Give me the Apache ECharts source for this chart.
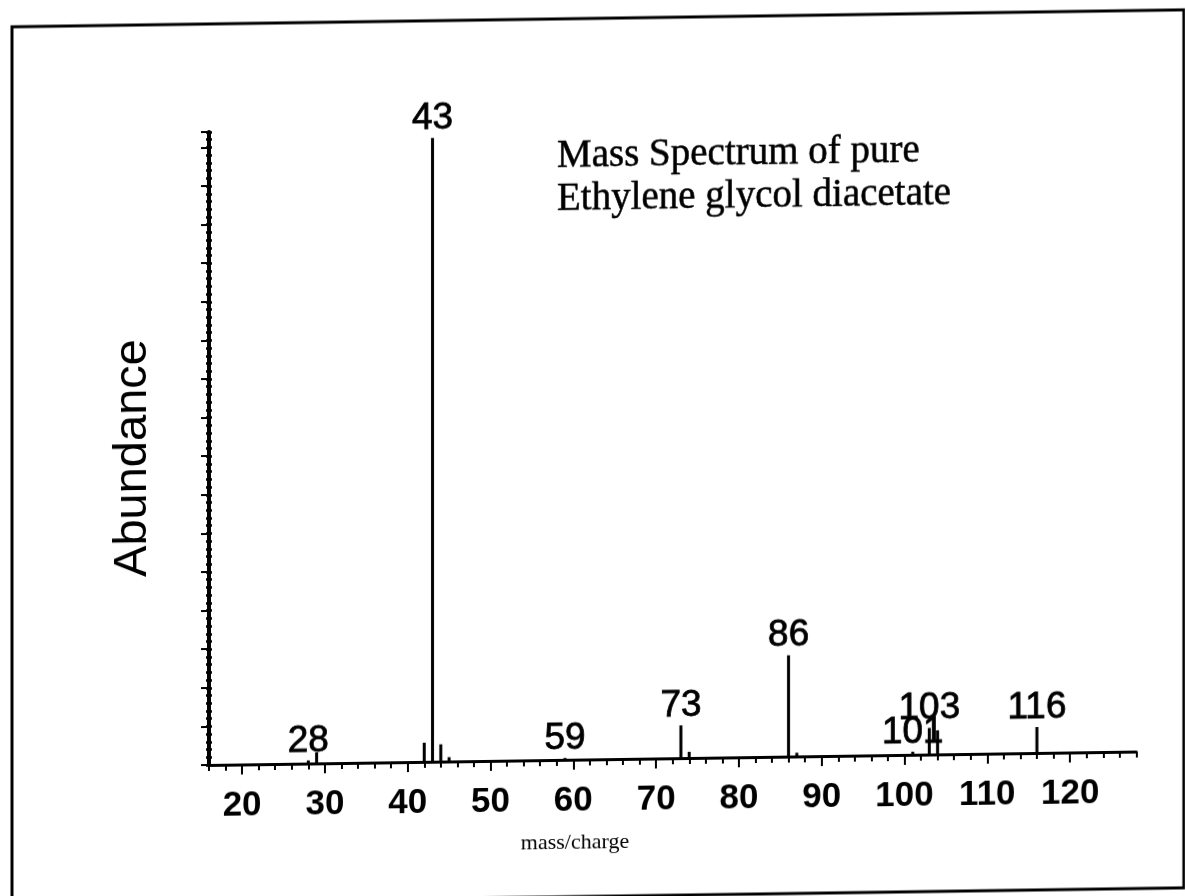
<!DOCTYPE html>
<html>
<head>
<meta charset="utf-8">
<script src="https://cdn.jsdelivr.net/npm/echarts@6/dist/echarts.min.js"></script>
<style>
html,body{margin:0;padding:0;background:#fff;overflow:hidden;width:1185px;height:896px;}
#chart{width:1185px;height:920px;transform:skewY(-0.83deg);transform-origin:0 0;}
</style>
</head>
<body>
<div id="chart"></div>
<script>
// m/z values of the peaks
const masses = [28, 29, 42, 43, 44, 45, 59, 73, 74, 86, 87, 101, 103, 104, 116];
// relative abundance (arbitrary units, axis runs 0..102.5)
const abundances = [0.5, 1.8, 3.1, 101, 2.8, 0.7, 0.3, 5.3, 1.0, 16.4, 0.6, 0.5, 4.3, 3.9, 4.2];
// peak annotations ('' = no label)
const peakLabels = ['28', '', '', '43', '', '', '59', '73', '', '86', '', '101', '103', '', '116'];
// x axis tick labels
const xTickLabels = [20, 30, 40, 50, 60, 70, 80, 90, 100, 110, 120];
const titleLines = ['Mass Spectrum of pure', 'Ethylene glycol diacetate'];
const xName = 'mass/charge';
const yName = 'Abundance';

const chart = echarts.init(document.getElementById('chart'), null, {renderer: 'canvas'});
const H = 920;

const data = masses.map((m, i) => ({
  value: [m, abundances[i]],
  label: {show: peakLabels[i] !== '', formatter: peakLabels[i]}
}));

const option = {
  backgroundColor: '#fff',
  animation: false,
  grid: {left: 209, right: 48.6, top: 135, bottom: H - 768, containLabel: false},
  xAxis: [
    {
      type: 'value', min: 16, max: 128, interval: 2, position: 'bottom',
      axisLine: {show: true, onZero: false, lineStyle: {color: '#000', width: 3}},
      axisTick: {show: true, length: 6, lineStyle: {color: '#000', width: 2}},
      axisLabel: {show: false},
      splitLine: {show: false}
    },
    {
      type: 'value', min: 16, max: 128, position: 'bottom',
      axisLine: {show: false, onZero: false},
      axisTick: {show: true, length: 10, customValues: xTickLabels, lineStyle: {color: '#000', width: 2}},
      axisLabel: {show: true, customValues: xTickLabels, margin: 24, color: '#000',
        fontFamily: 'Liberation Sans', fontWeight: 'bold', fontSize: 35},
      splitLine: {show: false}
    }
  ],
  yAxis: [
    {
      type: 'value', min: 0, max: 102.5, interval: 6.25, position: 'left',
      axisLine: {show: true, onZero: false, lineStyle: {color: '#000', width: 4}},
      axisTick: {show: true, length: 8, lineStyle: {color: '#000', width: 2}},
      axisLabel: {show: false},
      splitLine: {show: false}
    },
    {
      type: 'value', min: 0, max: 102.5, interval: 1.25, position: 'left',
      axisLine: {show: false, onZero: false},
      axisTick: {show: true, length: 3, lineStyle: {color: '#000', width: 2.5}},
      axisLabel: {show: false},
      splitLine: {show: false}
    },
    {
      type: 'value', min: 0, max: 102.5, interval: 1.25, position: 'left',
      axisLine: {show: false, onZero: false},
      axisTick: {show: true, inside: true, length: 3, lineStyle: {color: '#000', width: 2.5}},
      axisLabel: {show: false},
      splitLine: {show: false}
    }
  ],
  series: [{
    type: 'bar',
    xAxisIndex: 0,
    yAxisIndex: 0,
    barWidth: 3,
    itemStyle: {color: '#000'},
    label: {show: false, position: 'top', distance: 1, color: '#000',
      fontFamily: 'Liberation Sans', fontSize: 37,
      textBorderColor: '#000', textBorderWidth: 0.8},
    data: data
  }],
  graphic: [
    {type: 'rect', shape: {x: 12, y: 27, width: 1172, height: 878},
      style: {fill: 'none', stroke: '#000', lineWidth: 3}, silent: true},
    {type: 'text', x: 557, y: 165, style: {text: titleLines[0], fill: '#000',
      font: '39px "Liberation Serif"', align: 'left', verticalAlign: 'middle',
      stroke: '#000', lineWidth: 0.5}},
    {type: 'text', x: 557, y: 208, style: {text: titleLines[1], fill: '#000',
      font: '39px "Liberation Serif"', align: 'left', verticalAlign: 'middle',
      stroke: '#000', lineWidth: 0.5}},
    {type: 'text', x: 133, y: 460, rotation: Math.PI / 2, style: {text: yName, fill: '#000',
      font: '47px "Liberation Sans"', align: 'center', verticalAlign: 'middle'}},
    {type: 'text', x: 575, y: 851, style: {text: xName, fill: '#000',
      font: '22px "Liberation Serif"', align: 'center', verticalAlign: 'middle'}}
  ]
};
chart.setOption(option);
</script>
</body>
</html>
